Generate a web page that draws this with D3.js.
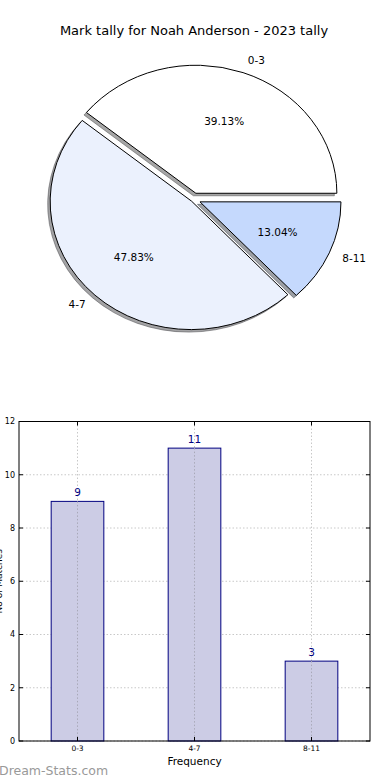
<!DOCTYPE html>
<html><head><meta charset="utf-8">
<script src="https://cdn.jsdelivr.net/npm/d3@7/dist/d3.min.js"></script>
<style>
html,body{margin:0;padding:0;background:#fff;}
svg{display:block;font-family:"DejaVu Sans",sans-serif;}
</style></head>
<body>
<svg id="c" width="390" height="780"></svg>
<script>
const title = "Mark tally for Noah Anderson - 2023 tally";
const categories = ["0-3", "4-7", "8-11"];
const counts = [9, 11, 3];
const sliceColors = ["#ffffff", "#ebf1fd", "#c5d9fd"];
const yTicks = [0, 2, 4, 6, 8, 10, 12];
const xLabel = "Frequency";
const yLabel = "No of Matches";
const watermark = "Dream-Stats.com";

(function () {
const svg = d3.select("#c");

svg.append("text").attr("x", 194).attr("y", 34.5).attr("text-anchor", "middle")
  .attr("font-size", 13).attr("fill", "#000").text(title);

// ---------- Pie ----------
const cx = 193.5, cy = 199.3, rx = 141, ry = 128;
const explode = [0.05, 0.02, 0.05];
const total = d3.sum(counts);
const pie = d3.pie().sort(null).startAngle(Math.PI / 2).endAngle(Math.PI / 2 - 2 * Math.PI);
const arcs = pie(counts);
const arc = d3.arc().innerRadius(0).outerRadius(1);
const pt = (a, k) => [Math.sin(a) * rx * k, -Math.cos(a) * ry * k];

const pieG = svg.append("g");
arcs.forEach((d, i) => {
  const mid = (d.startAngle + d.endAngle) / 2;
  const off = pt(mid, explode[i]);
  const ox = cx + off[0], oy = cy + off[1];
  const c = d3.rgb(sliceColors[i]);
  const sh = d3.rgb(c.r * 0.3, c.g * 0.3, c.b * 0.3);
  pieG.append("path").attr("d", arc(d))
    .attr("transform", `translate(${ox - 2.5},${oy + 2.5}) scale(${rx},${ry})`)
    .attr("fill", sh.formatHex()).attr("fill-opacity", 0.5)
    .attr("stroke", sh.formatHex()).attr("stroke-opacity", 0.5)
    .attr("vector-effect", "non-scaling-stroke").attr("stroke-width", 1);
  pieG.append("path").attr("d", arc(d))
    .attr("transform", `translate(${ox},${oy}) scale(${rx},${ry})`)
    .attr("fill", sliceColors[i]).attr("stroke", "#000").attr("stroke-width", 1)
    .attr("vector-effect", "non-scaling-stroke");
  const lp = pt(mid, 1.1);
  pieG.append("text").attr("x", ox + lp[0]).attr("y", oy + lp[1]).attr("dy", "0.35em")
    .attr("text-anchor", lp[0] > 0 ? "start" : "end")
    .attr("font-size", 10.5).attr("fill", "#000").text(categories[i]);
  const pp = pt(mid, 0.6);
  pieG.append("text").attr("x", ox + pp[0]).attr("y", oy + pp[1]).attr("dy", "0.35em")
    .attr("text-anchor", "middle").attr("font-size", 10.5).attr("fill", "#000")
    .text((counts[i] / total * 100).toFixed(2) + "%");
});

// ---------- Bar chart ----------
const pl = 19, pr = 370, pt0 = 421.5, pb = 741;
const x = d3.scaleLinear().domain([-0.5, 2.5]).range([pl, pr]);
const y = d3.scaleLinear().domain([0, 12]).range([pb, pt0]);
const bw = 0.45;
const g = svg.append("g");

g.selectAll(".hg").data(yTicks).enter().append("line")
  .attr("x1", pl).attr("x2", pr).attr("y1", d => y(d)).attr("y2", d => y(d))
  .attr("stroke", "#c8c8c8").attr("stroke-dasharray", "1.5,2").attr("stroke-width", 1);
g.selectAll(".vg").data(categories).enter().append("line")
  .attr("x1", (d, i) => x(i)).attr("x2", (d, i) => x(i)).attr("y1", pt0).attr("y2", pb)
  .attr("stroke", "#c8c8c8").attr("stroke-dasharray", "1.5,2").attr("stroke-width", 1);

g.selectAll(".bar").data(counts).enter().append("rect")
  .attr("x", (d, i) => x(i - bw / 2)).attr("width", x(bw) - x(0))
  .attr("y", d => y(d)).attr("height", d => y(0) - y(d))
  .attr("fill", "#ccccE5").attr("stroke", "#000080").attr("stroke-width", 1);
g.selectAll(".vg2").data(categories).enter().append("line")
  .attr("x1", (d, i) => x(i)).attr("x2", (d, i) => x(i)).attr("y1", (d, i) => y(counts[i])).attr("y2", pb)
  .attr("stroke", "#a8a8b8").attr("stroke-dasharray", "1.5,2").attr("stroke-width", 1);
g.selectAll(".vl").data(counts).enter().append("text")
  .attr("x", (d, i) => x(i)).attr("y", d => y(d) - 5).attr("text-anchor", "middle")
  .attr("font-size", 10.5).attr("fill", "#000080").text(d => d);

g.append("rect").attr("x", pl).attr("y", pt0).attr("width", pr - pl).attr("height", pb - pt0)
  .attr("fill", "none").attr("stroke", "#000").attr("stroke-width", 1);

yTicks.forEach(t => {
  g.append("line").attr("x1", pl).attr("x2", pl + 4).attr("y1", y(t)).attr("y2", y(t)).attr("stroke", "#000");
  g.append("line").attr("x1", pr).attr("x2", pr - 4).attr("y1", y(t)).attr("y2", y(t)).attr("stroke", "#000");
  g.append("text").attr("x", pl - 4).attr("y", y(t)).attr("dy", "0.35em").attr("text-anchor", "end")
    .attr("font-size", 8).attr("fill", "#000").text(t);
});
categories.forEach((c, i) => {
  g.append("line").attr("x1", x(i)).attr("x2", x(i)).attr("y1", pb).attr("y2", pb - 4).attr("stroke", "#000");
  g.append("line").attr("x1", x(i)).attr("x2", x(i)).attr("y1", pt0).attr("y2", pt0 + 4).attr("stroke", "#000");
  g.append("text").attr("x", x(i)).attr("y", pb + 10).attr("text-anchor", "middle")
    .attr("font-size", 7.5).attr("fill", "#000").text(c);
});

svg.append("text").attr("x", (pl + pr) / 2).attr("y", 765).attr("text-anchor", "middle")
  .attr("font-size", 10.5).attr("fill", "#000").text(xLabel);
svg.append("text").attr("transform", `translate(1.5,${(pt0 + pb) / 2}) rotate(-90)`)
  .attr("text-anchor", "middle").attr("font-size", 9).attr("fill", "#000").text(yLabel);

svg.append("text").attr("x", -1).attr("y", 775).attr("font-size", 12.5)
  .attr("fill", "#999").text(watermark);
})();
</script>
</body></html>
